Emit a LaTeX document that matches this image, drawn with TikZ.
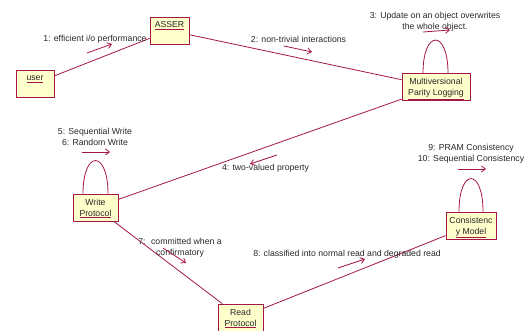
\documentclass[tikz,border=0pt]{standalone}
\usepackage{fontspec}
\setmainfont{Liberation Sans}
\usetikzlibrary{arrows.meta,calc}
\definecolor{umlred}{RGB}{163,22,72}
\definecolor{umlfill}{RGB}{255,255,204}
\definecolor{umltext}{RGB}{40,40,40}
\newcommand{\objname}[1]{{\color{umlred}\underline{\textcolor{umltext}{#1}}}}

\begin{document}
\begin{tikzpicture}[x=1pt, y=-1pt,
    every node/.style={font=\fontsize{8.7}{11}\selectfont, text=umltext},
    obj/.style={draw=umlred, fill=umlfill, line width=0.8pt, align=center,
        inner xsep=2pt, inner ysep=3pt, text height=19pt, text depth=2pt},
    oneline/.style={text height=8pt, text depth=13pt},
    link/.style={draw=umlred, line width=0.8pt},
    msg/.style={draw=umlred, line width=0.8pt, -{Straight Barb[length=4pt,width=6pt]}},
    lbl/.style={align=center, inner sep=0pt}]
    \useasboundingbox (0,0) rectangle (529,331);

    % objects
    \node[obj, oneline, minimum width=38pt] (user) at (35,83.5) {\objname{user}};
    \node[obj, oneline, minimum width=39pt] (asser) at (169.5,30.5) {\objname{ASSER}};
    \node[obj, minimum width=68pt] (mvpl) at (436,87) {Multiversional\\\objname{Parity Logging}};
    \node[obj, minimum width=45pt] (write) at (95.5,207.5) {Write\\\objname{Protocol}};
    \node[obj, minimum width=50pt] (cons) at (471,225.5) {Consistenc\\\objname{y Model}};
    \node[obj, minimum width=45pt] (read) at (240.5,317.5) {Read\\\objname{Protocol}};

    % links
    \draw[link] (user) -- (asser);
    \draw[link] (asser) -- (mvpl);
    \draw[link] (write) -- (mvpl);
    \draw[link] (write) -- (read);
    \draw[link] (read) -- (cons);
    \draw[link] ([xshift=-13pt]mvpl.north) .. controls +(0,-44) and +(0,-44) .. ([xshift=12pt]mvpl.north);
    \draw[link] ([xshift=-12.5pt]write.north) .. controls +(0,-44) and +(0,-44) .. ([xshift=12.5pt]write.north);
    \draw[link] ([xshift=-12pt]cons.north) .. controls +(0,-44) and +(0,-44) .. ([xshift=12pt]cons.north);

    % messages
    \node[lbl] (m1) at (95,39) {1: efficient i/o performance};
    \draw[msg] (87,53) -- (112,44);
    \node[lbl] (m2) at (298.5,39) {2: non-trivial interactions};
    \draw[msg] (284,46) -- (312,52);
    \node[lbl] (m3) at (435,21.5) {3: Update on an object overwrites\\the whole object.};
    \draw[msg] (423,32) -- (450,30);
    \node[lbl] (m4) at (265.5,168) {4: two-valued property};
    \draw[msg] (277,155) -- (250,164);
    \node[lbl] (m56) at (95,136.5) {5: Sequential Write\\6: Random Write};
    \draw[msg] (82,152) -- (110,152);
    \node[lbl] (m7) at (180,247.5) {7:~ committed when a\\confirmatory};
    \draw[msg] (163,248) -- (186,263);
    \node[lbl] (m8) at (347,254) {8: classified into normal read and degraded read};
    \draw[msg] (338,268) -- (365,259);
    \node[lbl] (m910) at (471,154) {9: PRAM Consistency\\10: Sequential Consistency};
    \draw[msg] (458,169) -- (486,169);
\end{tikzpicture}
\end{document}
